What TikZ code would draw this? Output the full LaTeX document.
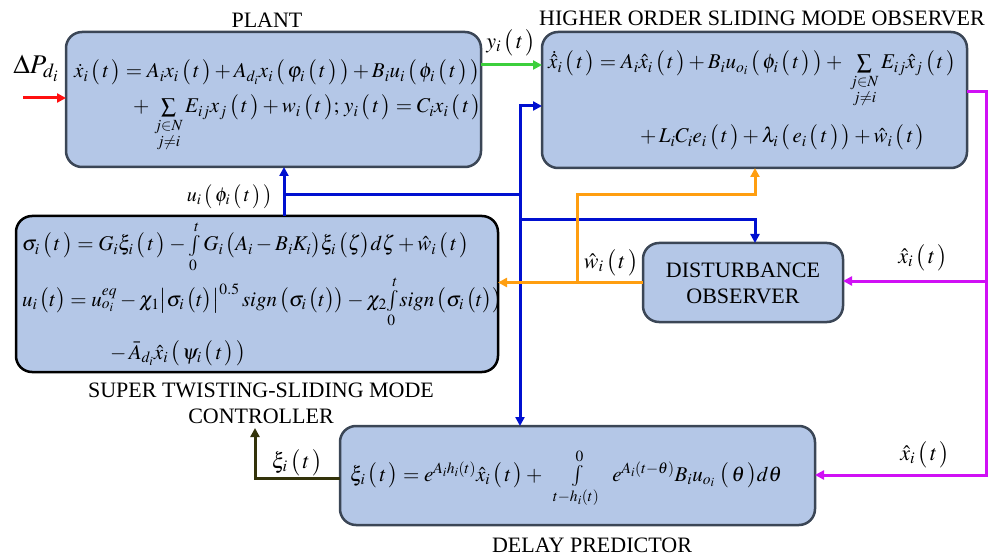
\documentclass[tikz,border=0pt]{standalone}
\usepackage{amsmath}
\usepackage{mathptmx}
\usepackage[no-math]{fontspec}
\setmainfont{Liberation Serif}
\usetikzlibrary{arrows.meta}
\definecolor{boxfill}{HTML}{B4C7E7}
\definecolor{boxline}{HTML}{3B4656}
\definecolor{cred}{HTML}{FF1010}
\definecolor{cgreen}{HTML}{3CCF3C}
\definecolor{cblue}{HTML}{0010D0}
\definecolor{corange}{HTML}{FF9E10}
\definecolor{cmag}{HTML}{D010F5}
\definecolor{colive}{HTML}{33330A}
\newcommand{\pa}[1]{\,\bigl(\,#1\,\bigr)}
\newcommand{\pc}[1]{\,\bigl(#1\bigr)}
\tikzset{
  blk/.style={draw=boxline, line width=2.5pt, fill=boxfill, rounded corners=16pt, inner sep=0pt, outer sep=0pt},
  title/.style={font=\fontsize{22}{26}\selectfont, inner sep=0pt, align=center},
  eq/.style={font=\fontsize{21}{25}\selectfont, inner sep=0pt, anchor=base west},
  lbl/.style={font=\fontsize{22}{26}\selectfont, inner sep=0pt},
  wire/.style={line width=3pt},
  arr/.style={line width=3pt, -{Triangle[length=9pt,width=9pt]}}
}
\begin{document}
\begin{tikzpicture}[x=1pt,y=-1pt]
\useasboundingbox (0,0) rectangle (989,559);
% boxes
\node[blk, minimum width=415pt, minimum height=135pt] (plant) at (273.5,99.5) {};
\node[blk, minimum width=425pt, minimum height=136pt] (obs) at (754.5,100) {};
\node[blk, draw=black, minimum width=482pt, minimum height=156pt] (ctrl) at (257,294) {};
\node[blk, minimum width=200pt, minimum height=79pt] (dob) at (743,282.5) {};
\node[blk, minimum width=475pt, minimum height=99pt] (pred) at (577.5,475.5) {};
% titles
\node[title] (tplant) at (267,20) {PLANT};
\node[title] (tobs) at (762,18) {HIGHER ORDER SLIDING MODE OBSERVER};
\node[title] (tctrl) at (261,403) {SUPER TWISTING-SLIDING MODE\\CONTROLLER};
\node[title] (tpred) at (592,545) {DELAY PREDICTOR};
\node[title] (tdob) at (743,283) {DISTURBANCE\\OBSERVER};
% plant equations
\node[eq] (p1) at (74,78) {$\dot{x}_i\pa{t}=A_ix_i\pa{t}+A_{d_i}x_i\pa{\varphi_i\pa{t}}+B_iu_i\pa{\phi_i\pa{t}}$};
\node[eq] (p2) at (133,113) {$+\,\sum\limits_{\substack{j\in N\\ j\neq i}}E_{ij}x_j\pa{t}+w_i\pa{t};\,y_i\pa{t}=C_ix_i\pa{t}$};
% observer equations
\node[eq] (o1) at (548,69) {$\dot{\hat{x}}_i\pa{t}=A_i\hat{x}_i\pa{t}+B_iu_{o_i}\pa{\phi_i\pa{t}}+\;\sum\limits_{\substack{j\in N\\ j\neq i}}E_{ij}\hat{x}_j\pa{t}$};
\node[eq] (o2) at (640,143) {$+\,L_iC_ie_i\pa{t}+\lambda_i\pa{e_i\pa{t}}+\hat{w}_i\pa{t}$};
% controller equations
\node[eq] (c1) at (22,251) {$\sigma_i\pa{t}=G_i\xi_i\pa{t}-\int\limits_0^tG_i\pc{A_i-B_iK_i}\xi_i\pc{\zeta}d\zeta+\hat{w}_i\pa{t}$};
\node[eq] (c2) at (22,306) {$u_i\pc{t}=u^{eq}_{o_i}-\chi_1\bigl|\sigma_i\pc{t}\bigr|^{0.5}\,sign\pc{\sigma_i\pc{t}}-\chi_2\!\int\limits_0^t\!sign\pc{\sigma_i\pc{t}}$};
\node[eq] (c3) at (110,359) {$-\,\bar{A}_{d_i}\hat{x}_i\pa{\psi_i\pa{t}}$};
% predictor equation
\node[eq] (d1) at (350,481) {$\xi_i\pa{t}=e^{A_ih_i(t)}\hat{x}_i\pa{t}+\;\;\int\limits_{t-h_i(t)}^{0}\;\;e^{A_i(t-\theta)}B_iu_{o_i}\,\pa{\theta}d\theta$};
% signal labels
\node[lbl, font=\fontsize{27}{31}\selectfont] (ldp) at (36,68) {$\Delta P_{d_i}$};
\node[lbl] (ly) at (511,43) {$y_i\pa{t}$};
\node[lbl, font=\fontsize{20}{24}\selectfont] (lu) at (230,197) {$u_i\pa{\phi_i\pa{t}}$};
\node[lbl] (lw) at (611,263) {$\hat{w}_i\pa{t}$};
\node[lbl] (lx1) at (923,258) {$\hat{x}_i\pa{t}$};
\node[lbl] (lx2) at (925,455) {$\hat{x}_i\pa{t}$};
\node[lbl] (lxi) at (297,463) {$\xi_i\pa{t}$};
% junction coordinates
\coordinate (rs) at (23,98);
\coordinate (gy) at (0,65);
\coordinate (ux) at (284,0);
\coordinate (bj) at (520,195);
\coordinate (bo) at (520,106);
\coordinate (bd) at (520,220);
\coordinate (bdx) at (755,220);
\coordinate (oj) at (577,283);
\coordinate (ot) at (577,195);
\coordinate (otx) at (755,195);
\coordinate (mt) at (0,92);
\coordinate (mtr) at (986,92);
\coordinate (mm) at (986,281);
\coordinate (mb) at (986,475);
\coordinate (ky) at (0,478);
\coordinate (kc) at (255,478);
\coordinate (kt) at (255,428);
% connectors
\draw[arr, cred] (rs) -- (rs -| plant.west);
\draw[arr, cgreen] (plant.east |- gy) -- (obs.west |- gy);
\draw[arr, cblue] (ctrl.north -| ux) -- (plant.south -| ux);
\draw[wire, cblue] (bj -| ux) -- (bj);
\draw[arr, cblue] (bj) -- (bo) -- (bo -| obs.west);
\draw[arr, cblue] (bj) -- (bj |- pred.north);
\draw[arr, cblue] (bd) -- (bdx) -- (bdx |- dob.north);
\draw[arr, corange] (dob.west) -- (dob.west -| ctrl.east);
\draw[arr, corange] (oj) -- (ot) -- (otx) -- (otx |- obs.south);
\draw[arr, cmag] (obs.east |- mt) -- (mtr) -- (mb) -- (mb -| pred.east);
\draw[arr, cmag] (mm) -- (mm -| dob.east);
\draw[arr, colive] (pred.west |- ky) -- (kc) -- (kt);
\end{tikzpicture}
\end{document}
